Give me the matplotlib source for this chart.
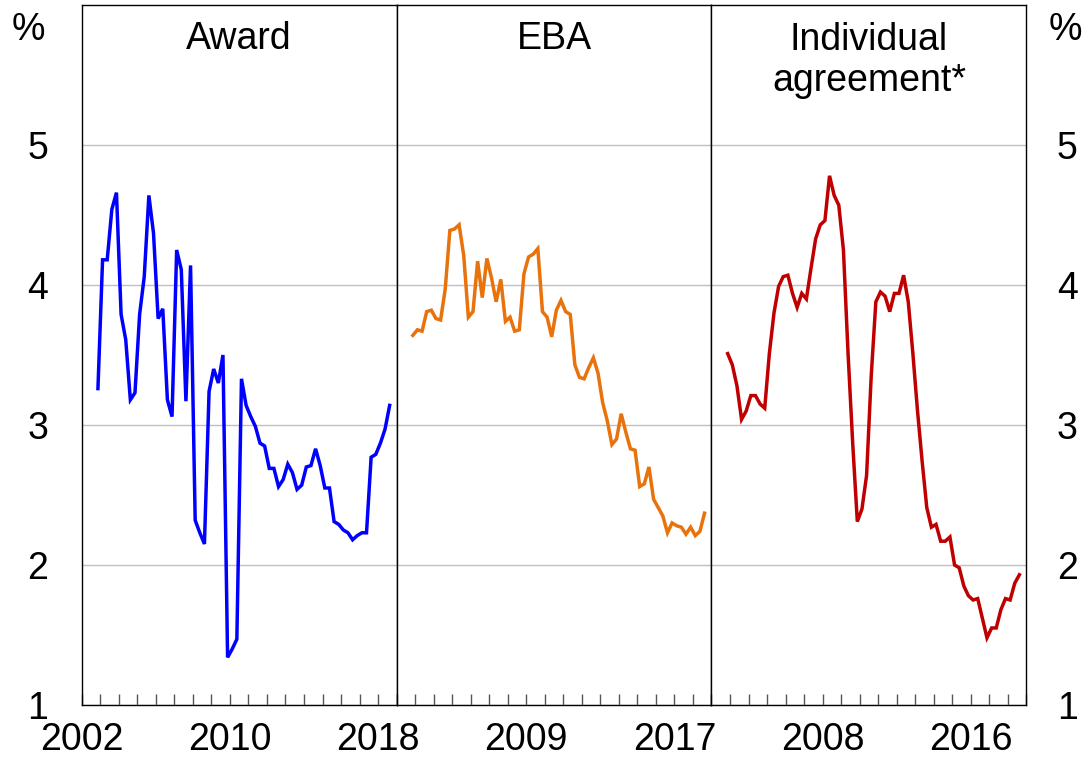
import matplotlib
matplotlib.use('Agg')
import matplotlib.pyplot as plt
import pandas as pd
from matplotlib.ticker import FixedLocator, FixedFormatter

plt.rcParams['font.family'] = ['Liberation Sans', 'DejaVu Sans']

# Quarterly data, Dec quarter 2002 to Sep quarter 2018 (year-ended wage growth, %)
quarters = pd.period_range('2002Q4', '2018Q3', freq='Q')

award = [3.26, 4.18, 4.18, 4.54, 4.66, 3.79, 3.61, 3.18, 3.23, 3.79,
         4.06, 4.64, 4.37, 3.76, 3.83, 3.18, 3.06, 4.25, 4.11, 3.17,
         4.14, 2.32, 2.23, 2.15, 3.24, 3.40, 3.30, 3.50, 1.34, 1.40,
         1.47, 3.33, 3.14, 3.06, 2.99, 2.87, 2.85, 2.69, 2.69, 2.56,
         2.61, 2.72, 2.66, 2.54, 2.57, 2.70, 2.71, 2.83, 2.71, 2.55,
         2.55, 2.31, 2.29, 2.25, 2.23, 2.18, 2.21, 2.23, 2.23, 2.77,
         2.79, 2.87, 2.97, 3.14]

eba = [3.64, 3.68, 3.67, 3.81, 3.82, 3.76, 3.75, 3.97, 4.39, 4.40,
       4.43, 4.21, 3.77, 3.81, 4.17, 3.91, 4.19, 4.05, 3.88, 4.04,
       3.74, 3.77, 3.67, 3.68, 4.08, 4.20, 4.22, 4.26, 3.81, 3.77,
       3.63, 3.82, 3.89, 3.81, 3.79, 3.43, 3.34, 3.33, 3.41, 3.48,
       3.37, 3.16, 3.03, 2.86, 2.90, 3.08, 2.95, 2.83, 2.82, 2.56,
       2.58, 2.70, 2.47, 2.41, 2.35, 2.23, 2.30, 2.28, 2.27, 2.22,
       2.27, 2.21, 2.24, 2.37]

individual = [3.51, 3.43, 3.28, 3.04, 3.10, 3.21, 3.21, 3.15, 3.12, 3.51,
              3.80, 3.99, 4.06, 4.07, 3.94, 3.84, 3.94, 3.90, 4.12, 4.33,
              4.43, 4.46, 4.78, 4.64, 4.57, 4.25, 3.51, 2.87, 2.31, 2.40,
              2.64, 3.35, 3.88, 3.95, 3.92, 3.81, 3.94, 3.94, 4.07, 3.88,
              3.51, 3.10, 2.74, 2.41, 2.27, 2.29, 2.17, 2.17, 2.20, 2.00,
              1.98, 1.85, 1.78, 1.75, 1.76, 1.62, 1.48, 1.55, 1.55, 1.68,
              1.76, 1.75, 1.87, 1.93]

series = [award, eba, individual]
panel_titles = ['Award', 'EBA', 'Individual\nagreement*']
year_labels = [[2002, 2010, 2018], [2009, 2017], [2008, 2016]]
colors = ['#0000ff', '#e8720c', '#c00000']
y_ticks = [1, 2, 3, 4, 5]
years = list(range(2002, 2020))

# plot quarters at mid-quarter
x = quarters.year + (quarters.quarter - 0.5) / 4

fig = plt.figure(figsize=(10.84, 7.6), dpi=100)
axes = fig.subplots(1, 3)
fig.subplots_adjust(left=0.0754, right=0.9468, top=0.9934, bottom=0.0724, wspace=0)

FS = 27
for i, ax in enumerate(axes):
    ax.plot(x, series[i], color=colors[i], lw=2.5, solid_joinstyle='miter', zorder=3)
    ax.set_xlim(2002, 2019)
    ax.set_ylim(1, 6)
    ax.yaxis.set_major_locator(FixedLocator(y_ticks))
    ax.grid(axis='y', color='#c0c0c0', lw=1.0, zorder=1)
    ax.xaxis.set_major_locator(FixedLocator(years))
    ax.xaxis.set_major_formatter(FixedFormatter(
        [str(y) if y in year_labels[i] else '' for y in years]))
    ax.tick_params(axis='x', direction='in', length=8, width=1, color='#555555',
                   labelsize=FS, pad=12)
    ax.tick_params(axis='y', length=0, labelsize=FS)
    for sp in ax.spines.values():
        sp.set_linewidth(1.0)
        sp.set_color('black')
    if i == 0:
        ax.tick_params(axis='y', labelleft=True, labelright=False, pad=24)
    elif i == 2:
        ax.yaxis.tick_right()
        ax.tick_params(axis='y', labelleft=False, labelright=True, pad=22, length=0)
    else:
        ax.tick_params(axis='y', labelleft=False, labelright=False)
    if '\n' in panel_titles[i]:
        ax.text(0.5, 0.921, panel_titles[i], transform=ax.transAxes, ha='center',
                va='center', fontsize=FS, linespacing=1.2)
    else:
        ax.text(0.5, 0.951, panel_titles[i], transform=ax.transAxes, ha='center',
                va='center', fontsize=FS)

fig.text(28 / 1084, 1 - 30 / 760, '%', ha='center', va='center', fontsize=FS)
fig.text(1065 / 1084, 1 - 30 / 760, '%', ha='center', va='center', fontsize=FS)

fig.savefig('out.png', dpi=100)
